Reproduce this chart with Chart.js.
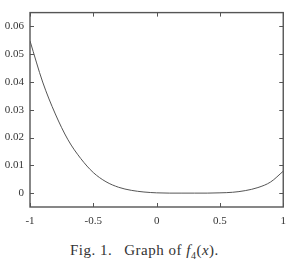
<!DOCTYPE html>
<html>
<head>
<meta charset="utf-8">
<script src="https://cdn.jsdelivr.net/npm/chart.js@4"></script>
<style>
  body { margin: 0; background: #fff; width: 294px; height: 262px; overflow: hidden; }
  #wrap { position: relative; width: 294px; height: 232px; }
  #caption { font-family: "Liberation Serif", serif; font-size: 15px; color: #333; letter-spacing: 0.5px;
             position: absolute; top: 242px; left: 70px; white-space: nowrap; }
</style>
</head>
<body>
<div id="wrap"><canvas id="lineChart"></canvas></div>
<div id="caption">Fig. 1.<span style="margin-left:12px">Graph of <i>f</i><sub style="font-size:10px">4</sub>(<i>x</i>).</span></div>
<script>
// valores
const xValues = [-1, -0.9, -0.8, -0.7, -0.6, -0.5, -0.4, -0.3, -0.2, -0.1, 0, 0.1, 0.2, 0.3, 0.4, 0.5, 0.6, 0.7, 0.8, 0.9, 1];
const yValues = [0.0548, 0.0400, 0.0285, 0.0192, 0.0125, 0.0074, 0.0041, 0.0021, 0.0010, 0.0004, 0.0001, 0.0000, 0.0000, 0.0000, 0.0000, 0.0001, 0.0003, 0.0009, 0.0020, 0.0040, 0.0079];
const xTicks = [-1, -0.5, 0, 0.5, 1];
const xTickLabels = ['-1', '-0.5', '0', '0.5', '1'];
const yTicks = [0, 0.01, 0.02, 0.03, 0.04, 0.05, 0.06];
const yTickLabels = ['0', '0.01', '0.02', '0.03', '0.04', '0.05', '0.06'];

// marco y marcas hacia dentro (estilo gnuplot)
const frame = {
    id: 'frame',
    afterDraw(chart) {
        const c = chart.ctx;
        const a = chart.chartArea;
        const xs = chart.scales.x, ys = chart.scales.y;
        c.save();
        c.strokeStyle = '#555';
        c.lineWidth = 1;
        c.beginPath();
        xTicks.forEach(v => {
            const px = Math.round(xs.getPixelForValue(v)) + 0.5;
            c.moveTo(px, a.bottom); c.lineTo(px, a.bottom - 4);
            c.moveTo(px, a.top); c.lineTo(px, a.top + 4);
        });
        yTicks.forEach(v => {
            const py = Math.round(ys.getPixelForValue(v)) + 0.5;
            c.moveTo(a.left, py); c.lineTo(a.left + 4, py);
            c.moveTo(a.right, py); c.lineTo(a.right - 4, py);
        });
        c.stroke();
        c.lineWidth = 1.4;
        c.strokeRect(a.left, a.top, a.right - a.left, a.bottom - a.top);
        c.restore();
    }
};

const ctx = document.getElementById('lineChart').getContext('2d');
const lineChart = new Chart(ctx, {
    type: 'line',
    data: {
        datasets: [{
            data: xValues.map((x, i) => ({ x: x, y: yValues[i] })),
            borderColor: '#555',
            borderWidth: 1,
            pointRadius: 0,
            fill: false,
            cubicInterpolationMode: 'monotone'
        }]
    },
    options: {
        responsive: true,
        maintainAspectRatio: false,
        animation: false,
        layout: { padding: { top: 5, right: 6, left: 0, bottom: 0 } },
        plugins: { legend: { display: false }, tooltip: { enabled: false } },
        scales: {
            x: {
                type: 'linear',
                min: -1, max: 1,
                afterBuildTicks: s => { s.ticks = xTicks.map(v => ({ value: v })); },
                afterFit: s => { s.height = 25; },
                grid: { display: false, drawTicks: false },
                border: { display: false },
                ticks: {
                    padding: 8,
                    color: '#333',
                    font: { family: 'Liberation Serif', size: 11 },
                    callback: v => xTickLabels[xTicks.indexOf(v)]
                }
            },
            y: {
                min: -0.005, max: 0.065,
                afterBuildTicks: s => { s.ticks = yTicks.map(v => ({ value: v })); },
                afterFit: s => { s.width = 30; },
                grid: { display: false, drawTicks: false },
                border: { display: false },
                ticks: {
                    padding: 6,
                    color: '#333',
                    font: { family: 'Liberation Serif', size: 11 },
                    callback: v => yTickLabels[yTicks.indexOf(v)]
                }
            }
        }
    },
    plugins: [frame]
});
</script>
</body>
</html>
